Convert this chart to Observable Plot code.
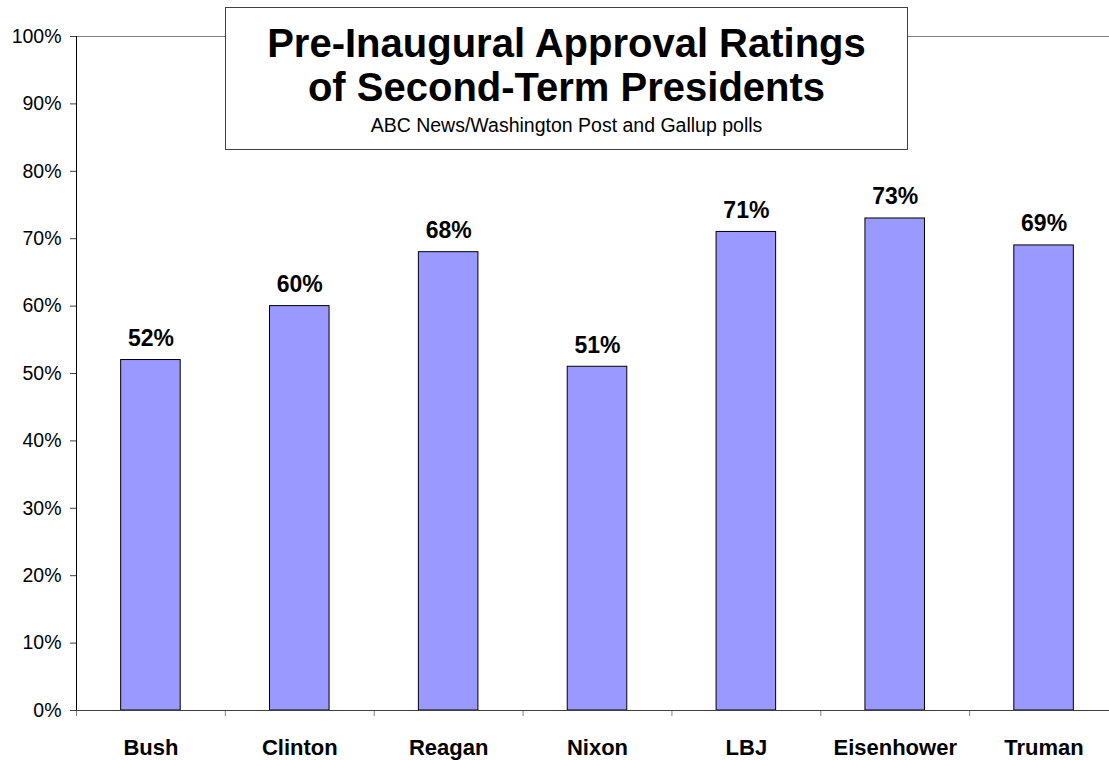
<!DOCTYPE html>
<html>
<head>
<meta charset="utf-8">
<script src="https://cdn.jsdelivr.net/npm/d3@7"></script>
<script src="https://cdn.jsdelivr.net/npm/@observablehq/plot@0.6"></script>
<style>
  html, body { margin: 0; padding: 0; background: #fff; overflow: hidden; }
  #wrap { position: relative; width: 1109px; height: 760px; font-family: "Liberation Sans", Arial, sans-serif; }
  #wrap svg { display: block; overflow: hidden; }
  #titlebox { position: absolute; left: 225px; top: 7px; width: 681px; height: 141px; background: #fff; border: 1px solid #404040; }
  .t { position: absolute; left: 0; right: 0; text-align: center; color: #000; white-space: nowrap; }
  .t1 { font-size: 40px; font-weight: bold; line-height: 40px; }
  .t3 { font-size: 19.5px; line-height: 19.5px; }
</style>
</head>
<body>
<div id="wrap">
  <div id="chart"></div>
  <div id="titlebox">
    <div class="t t1" style="top:15px">Pre-Inaugural Approval Ratings</div>
    <div class="t t1" style="top:59px">of Second-Term Presidents</div>
    <div class="t t3" style="top:108px">ABC News/Washington Post and Gallup polls</div>
  </div>
</div>
<script>
const presidents = ["Bush", "Clinton", "Reagan", "Nixon", "LBJ", "Eisenhower", "Truman"];
const approval = [0.52, 0.60, 0.68, 0.51, 0.71, 0.73, 0.69];
const yTicks = [0, 0.1, 0.2, 0.3, 0.4, 0.5, 0.6, 0.7, 0.8, 0.9, 1.0];

const data = presidents.map((name, i) => ({ name, i, value: approval[i] }));
const boundaries = d3.range(presidents.length + 1);
const pad = 0.3;
const pct = d3.format(".0%");

const chart = Plot.plot({
  width: 1109,
  height: 760,
  marginLeft: 76,
  marginTop: 36,
  marginBottom: 50,
  marginRight: 0,
  style: { fontFamily: "Liberation Sans, Arial, sans-serif", background: "#fff" },
  x: { type: "linear", domain: [0, presidents.length], range: [76, 1118], label: null },
  y: { domain: [0, 1], label: null },
  marks: [
    Plot.ruleY([1], { x1: 0, x2: presidents.length, stroke: "#808080", strokeWidth: 1 }),
    Plot.rectY(data, {
      x1: d => d.i + pad, x2: d => d.i + 1 - pad, y1: 0, y2: "value",
      fill: "#9999ff", stroke: "#000", strokeWidth: 1
    }),
    Plot.text(data, {
      x: d => d.i + 0.5, y: "value", text: d => pct(d.value),
      dy: -14, lineAnchor: "bottom", fontSize: 23, fontWeight: "bold", fill: "#000"
    }),
    Plot.text(data, {
      x: d => d.i + 0.5, y: 0, text: "name",
      dy: 44, lineAnchor: "bottom", fontSize: 22, fontWeight: "bold", fill: "#000"
    }),
    Plot.axisX({ ticks: boundaries, tickFormat: () => "", tickSize: 6, stroke: "#808080", label: null }),
    Plot.ruleY([0], { x1: 0, x2: presidents.length, stroke: "#404040", strokeWidth: 1 }),
    Plot.axisY({
      ticks: yTicks, tickFormat: pct, tickSize: 6, tickPadding: 9,
      fontSize: 19.5, stroke: "#404040", fill: "#000", label: null
    }),
    Plot.ruleX([0], { y1: 0, y2: 1, stroke: "#000", strokeWidth: 1 })
  ]
});
document.getElementById("chart").appendChild(chart);
</script>
</body>
</html>
